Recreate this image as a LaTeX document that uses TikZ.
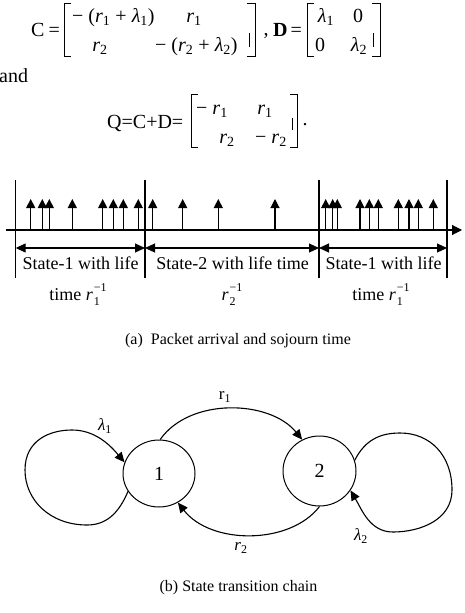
\documentclass[tikz,border=0pt]{standalone}
\usepackage{fontspec}
\setmainfont{Liberation Serif}
\usetikzlibrary{arrows.meta,shapes.geometric}
\newcommand\myr[1]{\textit{r}\textsubscript{#1}}
\newcommand\myl[1]{\textit{λ}\textsubscript{#1}}
\newcommand\myrinv[1]{\textit{r}\hspace{1pt}\makebox[0pt][l]{\raisebox{-5pt}{\fontsize{12}{12}\selectfont #1}}\raisebox{9pt}{\fontsize{12}{12}\selectfont −1}}
\begin{document}
\begin{tikzpicture}[x=1pt,y=1pt,
  eq/.style={font=\fontsize{20}{24}\selectfont, inner sep=0pt, anchor=base},
  eqw/.style={eq, anchor=base west},
  brk/.style={line width=0.8pt},
  tl/.style={font=\fontsize{18}{22}\selectfont, inner sep=0pt, anchor=base},
  capt/.style={font=\fontsize{16}{19}\selectfont, inner sep=0pt, anchor=base},
  ln/.style={line width=1.1pt},
  uptip/.style={ln, -{Triangle[length=9pt,width=9pt]}},
  dtip/.style={ln, {Triangle[length=10pt,width=9pt]}-{Triangle[length=10pt,width=9pt]}},
  conn/.style={line width=1.1pt, -{Triangle[length=10pt,width=9pt]}},
  st/.style={draw, ellipse, line width=1pt, inner sep=0pt, font=\fontsize{20}{24}\selectfont},
  lab/.style={font=\fontsize{17}{20}\selectfont, inner sep=0pt}]
\useasboundingbox (0,0) rectangle (465,-613);

% ---- C and D matrices
\node[eqw] (cl) at (31,-36) {C\hspace{4pt}=};
\node[eqw] (c11) at (72,-22) {− (\myr{1} + \myl{1})};
\node[eq] (c12) at (194,-22) {\myr{1}};
\node[eq] (c21) at (100,-51) {\myr{2}};
\node[eqw] (c22) at (155,-51) {− (\myr{2} + \myl{2})};
\draw[brk] (71,-3) -- (64,-3) -- (64,-56) -- (71,-56);
\draw[brk] (247,-3) -- (255,-3) -- (255,-56) -- (247,-56);
\draw[brk] (249.5,-33) -- (249.5,-47);
\node[eq] (comma) at (266,-35) {,};
\node[eqw] (dl) at (273,-36) {\textbf{D}\hspace{3pt}=};
\node[eq] (d11) at (326,-22) {\myl{1}};
\node[eq] (d12) at (358,-22) {0};
\node[eq] (d21) at (320,-51) {0};
\node[eq] (d22) at (359,-51) {\myl{2}};
\draw[brk] (314,-3) -- (307,-3) -- (307,-56) -- (314,-56);
\draw[brk] (372,-3) -- (380,-3) -- (380,-56) -- (372,-56);
\draw[brk] (373,-33) -- (373,-47);

\node[anchor=base west, inner sep=0pt, font=\fontsize{20}{24}\selectfont] (and) at (-1,-82) {and};

% ---- Q matrix
\node[eqw] (ql) at (107,-128) {Q=C+D=};
\node[eq] (q11) at (212,-114) {− \myr{1}};
\node[eq] (q12) at (265,-114) {\myr{1}};
\node[eq] (q21) at (227,-143) {\myr{2}};
\node[eq] (q22) at (271,-143) {− \myr{2}};
\draw[brk] (198,-94) -- (191,-94) -- (191,-147) -- (198,-147);
\draw[brk] (290,-94) -- (297,-94) -- (297,-147) -- (290,-147);
\draw[brk] (292,-118) -- (292,-130);
\node[eq] (dot) at (305,-125) {.};

% ---- timeline
\draw[ln, -{Triangle[length=10pt,width=10pt]}] (6,-230) -- (462,-230);
\foreach \x in {15.7,145,319,447} \draw[ln] (\x,-180) -- (\x,-278);
\foreach \x in {30.7,42.3,49.3,72.3,102.7,113.3,123.3,138.3,152.7,182.7,218.3,275,325.7,332.7,337.3,360,369.3,378.3,398.3,409,418.3,433.3}
  \draw[uptip] (\x,-230) -- (\x,-199);
\coordinate (a0) at (15.7,-248);
\coordinate (a1) at (145,-248);
\coordinate (a2) at (319,-248);
\coordinate (a3) at (447,-248);
\draw[dtip] (a0) -- (a1);
\draw[dtip] (a1) -- (a2);
\draw[dtip] (a2) -- (a3);
\node[tl] (s1) at (80.5,-269) {State-1 with life};
\node[tl] (s2) at (232.5,-269) {State-2 with life time};
\node[tl] (s3) at (383.5,-269) {State-1 with life};
\node[tl] (t1) at (78,-300) {time \myrinv{1}};
\node[tl] (t2) at (232,-300) {\myrinv{2}};
\node[tl] (t3) at (381,-300) {time \myrinv{1}};
\node[capt] (capa) at (238,-344) {(a)\hspace{8pt}Packet arrival and sojourn time};

% ---- state chain
\node[st, minimum width=72pt, minimum height=67pt] (n1) at (159,-473.5) {1};
\node[st, minimum width=73pt, minimum height=70pt] (n2) at (319.5,-471) {2};
\draw[conn] (n1.88) .. controls (190,-397) and (270,-400) .. (n2.119);
\draw[conn] (n2.270) .. controls (290,-545) and (211,-545) .. (n1.303);
\draw[conn] (n1.210) .. controls (118,-515) and (105,-525) .. (87,-525)
  .. controls (50,-525) and (25,-500) .. (25,-470)
  .. controls (25,-440) and (50,-430) .. (72,-430)
  .. controls (95,-430) and (110,-445) .. (n1.162);
\draw[conn] (n2.17) .. controls (365,-440) and (380,-433) .. (400,-433)
  .. controls (430,-433) and (452,-455) .. (452,-490)
  .. controls (452,-520) and (420,-532) .. (393,-532)
  .. controls (370,-532) and (362,-510) .. (n2.328);
\node[lab] (l1) at (105,-426) {\myl{1}};
\node[lab] (lr1) at (225,-397) {r\textsubscript{1}};
\node[lab] (lr2) at (241,-548) {\myr{2}};
\node[lab] (l2) at (361,-536) {\myl{2}};
\node[capt] (capb) at (238.5,-591) {(b) State transition chain};
\end{tikzpicture}
\end{document}
